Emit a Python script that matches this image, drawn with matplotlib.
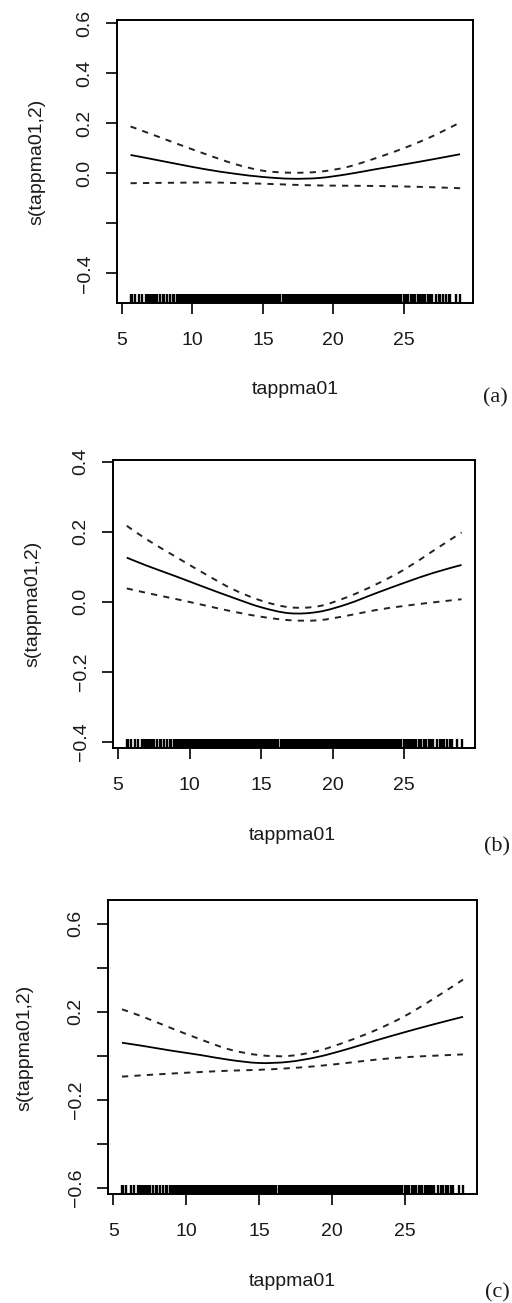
#### Workspace setup ####
import numpy as np
import matplotlib
matplotlib.use('Agg')
import matplotlib.pyplot as plt
import matplotlib.transforms as mtransforms
from matplotlib.path import Path
from matplotlib.patches import PathPatch

#### Data ####
# Smooth term s(tappma01,2): fitted curve and upper/lower 2*SE bands
grid_x = [5.6, 7, 9, 11, 13, 15, 17, 19, 21, 23, 25, 27, 29]

fit_a = [0.073, 0.058, 0.036, 0.015, -0.002, -0.015, -0.022, -0.019, -0.004, 0.016, 0.035, 0.055, 0.076]
upper_a = [0.187, 0.158, 0.116, 0.075, 0.037, 0.010, 0.002, 0.006, 0.025, 0.060, 0.100, 0.147, 0.203]
lower_a = [-0.040, -0.039, -0.038, -0.037, -0.039, -0.042, -0.046, -0.049, -0.050, -0.051, -0.053, -0.056, -0.060]

fit_b = [0.126, 0.103, 0.073, 0.042, 0.012, -0.016, -0.033, -0.029, -0.007, 0.024, 0.054, 0.082, 0.105]
upper_b = [0.217, 0.178, 0.129, 0.081, 0.036, 0.003, -0.016, -0.013, 0.013, 0.049, 0.092, 0.145, 0.198]
lower_b = [0.038, 0.025, 0.008, -0.010, -0.028, -0.043, -0.053, -0.053, -0.040, -0.024, -0.012, -0.002, 0.007]

fit_c = [0.059, 0.045, 0.023, 0.003, -0.019, -0.033, -0.028, -0.006, 0.029, 0.069, 0.107, 0.143, 0.177]
upper_c = [0.211, 0.178, 0.125, 0.074, 0.028, 0.003, -0.001, 0.021, 0.064, 0.116, 0.180, 0.260, 0.346]
lower_c = [-0.095, -0.089, -0.081, -0.074, -0.068, -0.064, -0.057, -0.047, -0.033, -0.018, -0.007, 0.000, 0.006]

# Observed tappma01 values (tenths of a degree) for the rug
rug_tenths = [
    56, 57, 59, 62, 64, 67, 68, 69, 70, 71, 72, 73, 74, 75, 77, 79, 80, 82, 84, 86, 87, 89,
    90, 91, 92, 93, 94, 95, 96, 97, 98, 99,
    100, 101, 102, 103, 104, 105, 106, 107, 108, 109,
    110, 111, 112, 113, 114, 115, 116, 117, 118, 119,
    120, 121, 122, 123, 124, 125, 126, 127, 128, 129,
    130, 131, 132, 133, 134, 135, 136, 137, 138, 139,
    140, 141, 142, 143, 144, 145, 146, 147, 148, 149,
    150, 151, 152, 153, 154, 155, 156, 157, 158, 159,
    160, 161, 162, 164, 165, 166, 167, 168, 169,
    170, 171, 172, 173, 174, 175, 176, 177, 178, 179,
    180, 181, 182, 183, 184, 185, 186, 187, 188, 189,
    190, 191, 192, 193, 194, 195, 196, 197, 198, 199,
    200, 201, 202, 203, 204, 205, 206, 207, 208, 209,
    210, 211, 212, 213, 214, 215, 216, 217, 218, 219,
    220, 221, 222, 223, 224, 225, 226, 227, 228, 229,
    230, 231, 232, 233, 234, 235, 236, 237, 238, 239,
    240, 241, 242, 243, 244, 245, 246, 247, 248,
    250, 251, 252, 253, 255, 256, 257, 258, 260, 261, 262,
    264, 265, 267, 268, 269, 270, 273, 275, 276, 278, 280, 282, 283, 287, 290,
]
rug_x = np.array(rug_tenths) / 10.0

x_ticks = [5, 10, 15, 20, 25]
x_label = 'tappma01'
y_label = 's(tappma01,2)'

#### Plot helpers ####
W, H = 512, 1303
SANS = 'Liberation Sans'
SERIF = 'Liberation Serif'
TXT = '#1a1a1a'
FS = 14


def px_axes(fig, left, top, right, bottom):
    '''Add an axes given its box in figure pixels (origin top-left).'''
    return fig.add_axes([left / W, 1 - bottom / H, (right - left) / W, (bottom - top) / H])


def smooth_line(ax, x, y, **kw):
    '''
    Draws a smooth curve through the points (Catmull-Rom segments as cubic Beziers).
    '''
    pts = np.column_stack([x, y])
    ext = np.vstack([pts[0], pts, pts[-1]])
    verts = [pts[0]]
    codes = [Path.MOVETO]
    for i in range(1, len(ext) - 2):
        p0, p1, p2, p3 = ext[i - 1], ext[i], ext[i + 1], ext[i + 2]
        verts += [p1 + (p2 - p0) / 6, p2 - (p3 - p1) / 6, p2]
        codes += [Path.CURVE4] * 3
    ax.add_patch(PathPatch(Path(verts, codes), fill=False, **kw))


def plot_smooth(ax, fit, upper, lower, ylim, yticks, yticklabels):
    '''
    Draws a GAM smooth term with dashed 2*SE bands and a rug of the observations.
    '''
    smooth_line(ax, grid_x, fit, edgecolor='black', lw=1.3)
    smooth_line(ax, grid_x, upper, edgecolor='#222222', lw=1.4, linestyle=(0, (3.2, 3.2)))
    smooth_line(ax, grid_x, lower, edgecolor='#222222', lw=1.4, linestyle=(0, (3.2, 3.2)))

    # rug along the bottom of the plot region
    trans = mtransforms.blended_transform_factory(ax.transData, ax.transAxes)
    ax.vlines(rug_x, 0, 0.032, transform=trans, color='black', lw=1.7)

    ax.set_xlim(4.66, 29.94)
    ax.set_ylim(*ylim)
    ax.set_xticks(x_ticks)
    ax.set_yticks(yticks)
    ax.set_yticklabels(yticklabels, rotation=90, va='center')
    ax.tick_params(direction='out', length=8, width=1.2, colors='black',
                   labelcolor=TXT, labelsize=FS)
    ax.tick_params(axis='x', pad=13)
    ax.tick_params(axis='y', pad=9)
    for lab in ax.get_xticklabels() + ax.get_yticklabels():
        lab.set_fontfamily(SANS)
    for s in ax.spines.values():
        s.set_linewidth(1.4)


#### Figure ####
fig = plt.figure(figsize=(W / 100, H / 100), dpi=100)

panels = [
    dict(box=(117.3, 20, 473.3, 302.7), fit=fit_a, upper=upper_a, lower=lower_a,
         ylim=(-0.518, 0.613), yticks=[-0.4, -0.2, 0.0, 0.2, 0.4, 0.6],
         labels=['\u22120.4', '', '0.0', '0.2', '0.4', '0.6'],
         ylab=(37, 162), xlab=(295, 389), tag='(a)', tagpos=(495, 398)),
    dict(box=(113.3, 460, 475, 748.3), fit=fit_b, upper=upper_b, lower=lower_b,
         ylim=(-0.419, 0.405), yticks=[-0.4, -0.2, 0.0, 0.2, 0.4],
         labels=['\u22120.4', '\u22120.2', '0.0', '0.2', '0.4'],
         ylab=(33, 604), xlab=(292, 836), tag='(b)', tagpos=(497, 847)),
    dict(box=(108.3, 900, 476.7, 1194.3), fit=fit_c, upper=upper_c, lower=lower_c,
         ylim=(-0.63, 0.708), yticks=[-0.6, -0.4, -0.2, 0.0, 0.2, 0.4, 0.6],
         labels=['\u22120.6', '', '\u22120.2', '', '0.2', '', '0.6'],
         ylab=(25, 1048), xlab=(292, 1282), tag='(c)', tagpos=(497, 1293)),
]

for p in panels:
    ax = px_axes(fig, *p['box'])
    plot_smooth(ax, p['fit'], p['upper'], p['lower'], p['ylim'], p['yticks'], p['labels'])
    fig.text(p['ylab'][0] / W, 1 - p['ylab'][1] / H, y_label, rotation=90,
             ha='center', va='center', fontsize=FS, family=SANS, color=TXT)
    fig.text(p['xlab'][0] / W, 1 - p['xlab'][1] / H, x_label,
             ha='center', va='center', fontsize=FS, family=SANS, color=TXT)
    fig.text(p['tagpos'][0] / W, 1 - p['tagpos'][1] / H, p['tag'],
             ha='center', va='center', fontsize=16, family=SERIF, color=TXT)

fig.savefig('out.png', dpi=100)
